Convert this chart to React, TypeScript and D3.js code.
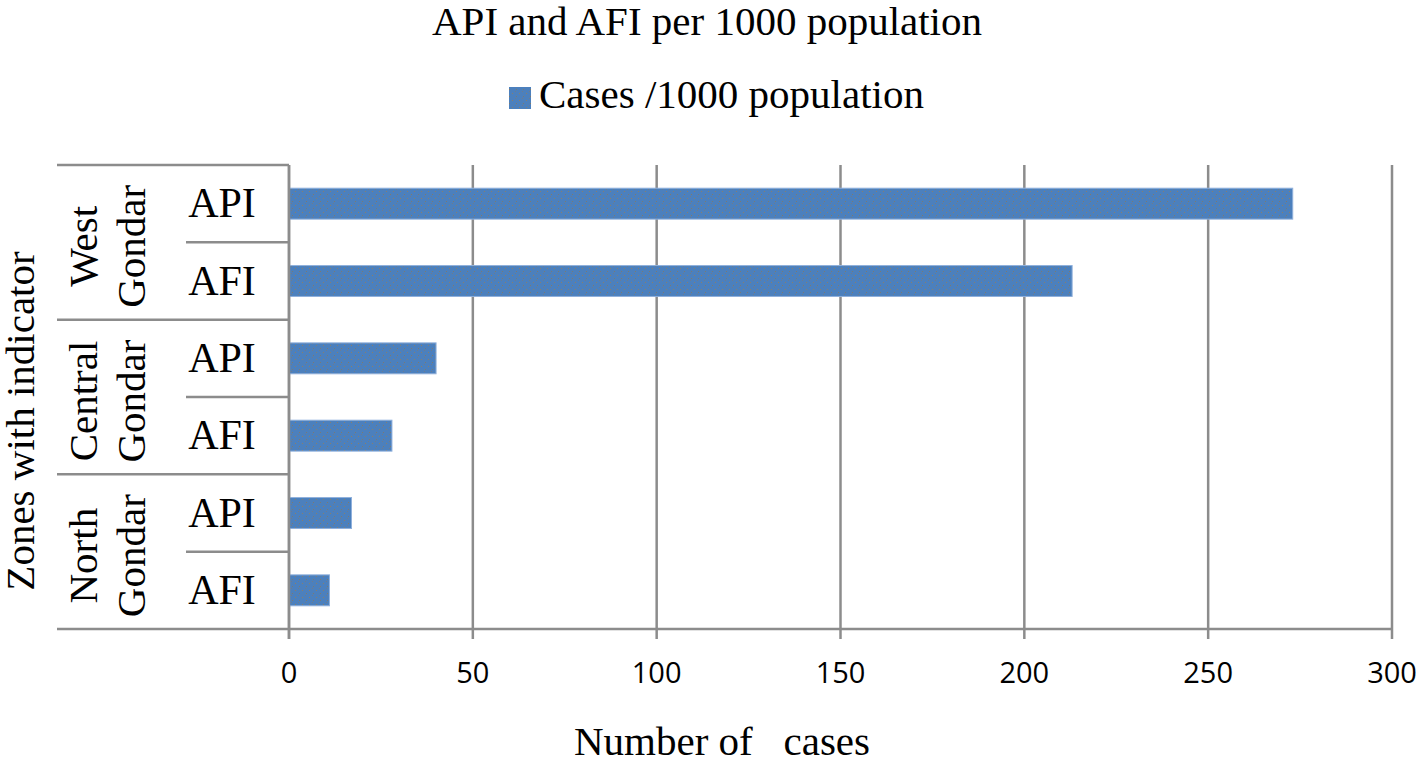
import React from "react";
import * as d3 from "d3";

const title = "API and AFI per 1000 population";
const legendLabel = "Cases /1000 population";
const xTitle = "Number of   cases";
const yTitle = "Zones with indicator";
const zones = [["West", "Gondar"], ["Central", "Gondar"], ["North", "Gondar"]];
const indicators = ["API", "AFI"];
const categories = ["West|API", "West|AFI", "Central|API", "Central|AFI", "North|API", "North|AFI"];
const values = [273, 213, 40, 28, 17, 11];
const xTicks = [0, 50, 100, 150, 200, 250, 300];

const W = 1418, H = 761;
const left = 289, right = 1392, top = 165, bottom = 629;
const axisLeft = 57, subLeft = 186;
const serif = "'Liberation Serif', 'Times New Roman', serif";
const sans = "'Open Sans', 'Noto Sans', sans-serif";
const grid = "#8c8c8c";
const barFill = "#4c80bd";
const fs = 41;

export default function App() {
  const x = d3.scaleLinear().domain([0, 300]).range([left, right]);
  const y = d3.scaleBand<string>().domain(categories).range([top, bottom]).padding(0);
  const groupBand = d3.scaleBand<number>().domain(d3.range(zones.length)).range([top, bottom]).padding(0);
  const bw = y.bandwidth();
  const barH = bw * 0.4;

  return (
    <svg width={W} height={H} style={{ position: "absolute", left: 0, top: 0, background: "#fff" }}>
      <defs>
        <pattern id="dots" width="7" height="7" patternUnits="userSpaceOnUse">
          <rect width="7" height="7" fill={barFill} />
          <rect x="1" y="2" width="1" height="1" fill="#8a7f6a" />
          <rect x="5" y="5" width="1" height="1" fill="#7d7a70" />
          <rect x="4" y="0" width="1" height="1" fill="#6f7c8c" />
        </pattern>
      </defs>

      <text x={707} y={35} fontFamily={serif} fontSize={fs} textAnchor="middle" fill="#000">{title}</text>

      <rect x={509} y={87} width={22} height={22} fill="url(#dots)" />
      <text x={539} y={108} fontFamily={serif} fontSize={fs} fill="#000">{legendLabel}</text>

      {/* vertical gridlines */}
      {xTicks.map((t) => (
        <line key={"g" + t} x1={x(t)} x2={x(t)} y1={top} y2={bottom + 10} stroke={grid} strokeWidth={2.5} />
      ))}

      {/* bars */}
      {categories.map((c, i) => (
        <rect key={c} x={x(0)} y={(y(c) as number) + (bw - barH) / 2} width={x(values[i]) - x(0)} height={barH}
          fill="url(#dots)" stroke="#8fb0dc" strokeWidth={1} />
      ))}

      {/* category axis separators */}
      <line x1={left} x2={left} y1={top} y2={bottom + 10} stroke={grid} strokeWidth={2.5} />
      <line x1={axisLeft} x2={right} y1={bottom} y2={bottom} stroke={grid} strokeWidth={2.5} />
      {zones.map((z, gi) => (
        <line key={"gl" + gi} x1={axisLeft} x2={left} y1={groupBand(gi) as number} y2={groupBand(gi) as number} stroke={grid} strokeWidth={2.5} />
      ))}
      {zones.map((z, gi) => {
        const ym = (groupBand(gi) as number) + groupBand.bandwidth() / 2;
        return <line key={"sl" + gi} x1={subLeft} x2={left} y1={ym} y2={ym} stroke={grid} strokeWidth={2.5} />;
      })}

      {/* indicator labels */}
      {categories.map((c, i) => (
        <text key={"l" + c} x={222} y={(y(c) as number) + bw / 2 + 13.5} fontFamily={serif} fontSize={fs + 1}
          textAnchor="middle" fill="#000">{indicators[i % 2]}</text>
      ))}

      {/* zone labels */}
      {zones.map((z, gi) => {
        const ym = (groupBand(gi) as number) + groupBand.bandwidth() / 2;
        return (
          <g key={"z" + gi}>
            <text transform={`translate(97,${ym + 4}) rotate(-90)`} fontFamily={serif} fontSize={fs} textAnchor="middle" fill="#000">{z[0]}</text>
            <text transform={`translate(145,${ym + 4}) rotate(-90)`} fontFamily={serif} fontSize={fs} textAnchor="middle" fill="#000">{z[1]}</text>
          </g>
        );
      })}

      {/* x tick labels */}
      {xTicks.map((t) => (
        <text key={"t" + t} x={x(t)} y={683} fontFamily={sans} fontSize={29} textAnchor="middle" fill="#000">{t}</text>
      ))}

      <text x={722} y={755} fontFamily={serif} fontSize={fs} textAnchor="middle" fill="#000" style={{ whiteSpace: "pre" }}>{xTitle}</text>
      <text transform="translate(34,421) rotate(-90)" fontFamily={serif} fontSize={fs} textAnchor="middle" fill="#000">{yTitle}</text>
    </svg>
  );
}
